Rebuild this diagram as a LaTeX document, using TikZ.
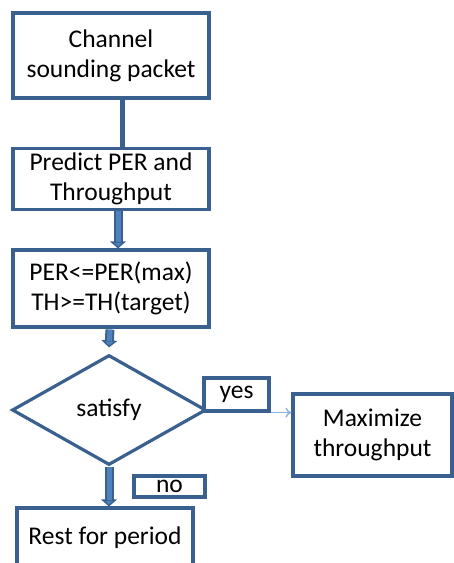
\documentclass[tikz,border=0pt]{standalone}
\usepackage{fontspec}
\setmainfont{Carlito}
\usetikzlibrary{shapes.geometric,arrows.meta}
\definecolor{dk}{HTML}{3A6090}
\definecolor{lt}{HTML}{4F81BD}
\definecolor{thin}{HTML}{8DB0DC}
\newcommand{\fsz}{\fontsize{25.5}{30}\selectfont}
\tikzset{
  box/.style={draw=dk, line width=3.2pt, fill=white, inner sep=0pt, align=center,
    font=\fsz},
  lbl/.style={draw=dk, line width=3.2pt, fill=white, inner sep=0pt, align=center,
    font=\fsz},
  dia/.style={draw=dk, line width=3.2pt, diamond, inner sep=0pt, aspect=1.76,
    font=\fsz},
  barline/.style={draw=dk, line width=5pt},
  blockouter/.style={draw=dk, line width=9pt,
    -{Triangle[length=7pt,width=16pt,fill=lt,line width=1.4pt]}},
  blockinner/.style={draw=lt, line width=5pt, shorten >=6pt},
  thinarrow/.style={draw=thin, line width=1.4pt, -{To[length=6pt,width=10pt]}},
}
\begin{document}
\begin{tikzpicture}[x=1pt,y=-1pt]
\useasboundingbox (0,0) rectangle (454,563);
\clip (0,0) rectangle (454,563);
\node[box, minimum width=196pt, minimum height=85pt] (b1) at (111,55.5) {Channel\\sounding packet};
\node[box, minimum width=196pt, minimum height=61pt] (b2) at (111,179) {Predict PER and\\Throughput};
\node[box, minimum width=196pt, minimum height=77pt] (b3) at (111,288.5) {PER<=PER(max)\\TH>=TH(target)};
\node[dia, minimum width=194pt, minimum height=110pt] (d) at (109,410) {satisfy};
\node[lbl, minimum width=65pt, minimum height=33pt] (yes) at (236.5,394.5) {yes};
\node[box, minimum width=159pt, minimum height=82pt] (mx) at (372.5,435) {Maximize\\throughput};
\node[lbl, minimum width=71pt, minimum height=21pt] (no) at (169.5,486.5) {no};
\node[box, minimum width=176pt, minimum height=80pt] (rest) at (105,548) {};
\node[font=\fsz, inner sep=0pt] (resttxt) at (105,538) {Rest for period};
% connectors
\draw[barline] ([xshift=11pt]b1.south) -- ([xshift=11pt]b2.north);
\draw[blockouter] ([xshift=7pt]b2.south) -- ([xshift=7pt]b3.north);
\draw[blockinner] ([xshift=7pt]b2.south) -- ([xshift=7pt]b3.north);
\draw[blockouter] ([xshift=-1pt,yshift=-1pt]b3.south) -- ([yshift=6pt]d.north);
\draw[blockinner] ([xshift=-1pt,yshift=-1pt]b3.south) -- ([yshift=6pt]d.north);
\draw[blockouter] (d.south) -- (d.south |- rest.north);
\draw[blockinner] (d.south) -- (d.south |- rest.north);
\draw[thinarrow] (yes.south east) -- (yes.south east -| mx.west);
\end{tikzpicture}
\end{document}
